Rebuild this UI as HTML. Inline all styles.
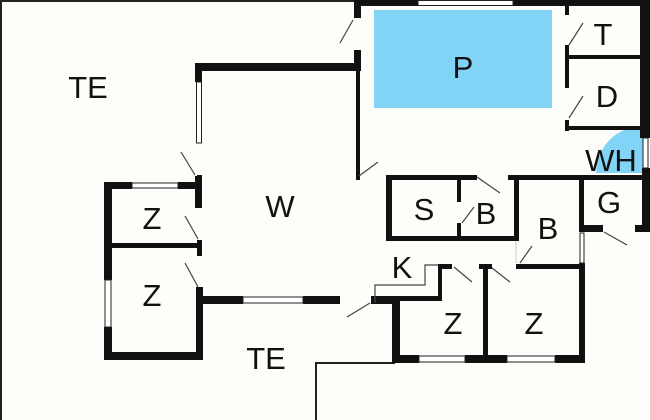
<!DOCTYPE html>
<html><head><meta charset="utf-8"><style>
html,body{margin:0;padding:0;background:#fdfdf9;}
svg{display:block}
text{font-family:"Liberation Sans",sans-serif;font-size:31px;fill:#111;text-anchor:middle}
</style></head><body>
<svg width="650" height="420" viewBox="0 0 650 420" xmlns="http://www.w3.org/2000/svg">
<rect width="650" height="420" fill="#fdfdf9"/>
<g fill="none" stroke="#222" stroke-width="2">
<path d="M1,420 V1 H355"/>
<path d="M316,420 V363 H395"/>
</g>
<rect x="374" y="10" width="178" height="98" fill="#82d4f6"/>
<path d="M643,173 L596,173 A47,47 0 0 1 643,126 Z" fill="#82d4f6"/>
<g fill="#111">
<rect x="354" y="0" width="64" height="6"/>
<rect x="513" y="0" width="137" height="6"/>
<rect x="354" y="0" width="7" height="18"/>
<rect x="354" y="50" width="7" height="21"/>
<rect x="195" y="63" width="166" height="8"/>
<rect x="195" y="63" width="7" height="19"/>
<rect x="195" y="176" width="7" height="32"/>
<rect x="356" y="71" width="4" height="109"/>
<rect x="565" y="0" width="4" height="15"/>
<rect x="565" y="45" width="4" height="43"/>
<rect x="565" y="120" width="4" height="11"/>
<rect x="565" y="55" width="78" height="4"/>
<rect x="565" y="126" width="78" height="4"/>
<rect x="640" y="0" width="10" height="138"/>
<rect x="642" y="168" width="8" height="64"/>
<rect x="386" y="175" width="91" height="5"/>
<rect x="508" y="175" width="142" height="5"/>
<rect x="386" y="175" width="6" height="66"/>
<rect x="386" y="236" width="133" height="5"/>
<rect x="514" y="175" width="5" height="66"/>
<rect x="457" y="175" width="4" height="27"/>
<rect x="457" y="223" width="4" height="18"/>
<rect x="579" y="175" width="5" height="57"/>
<rect x="579" y="225" width="24" height="7"/>
<rect x="635" y="225" width="15" height="7"/>
<rect x="579" y="263" width="6" height="100"/>
<rect x="516" y="264" width="69" height="5"/>
<rect x="438" y="264" width="14" height="5"/>
<rect x="479" y="264" width="13" height="5"/>
<rect x="483" y="264" width="5" height="95"/>
<rect x="438" y="264" width="4" height="37"/>
<rect x="392" y="296" width="50" height="5"/>
<rect x="371" y="296" width="29" height="8"/>
<rect x="392" y="296" width="8" height="67"/>
<rect x="392" y="355" width="27" height="8"/>
<rect x="465" y="355" width="42" height="8"/>
<rect x="555" y="355" width="30" height="8"/>
<rect x="104" y="182" width="28" height="7"/>
<rect x="178" y="182" width="24" height="7"/>
<rect x="104" y="182" width="8" height="98"/>
<rect x="104" y="327" width="8" height="33"/>
<rect x="104" y="243" width="98" height="5"/>
<rect x="104" y="352" width="99" height="8"/>
<rect x="197" y="175" width="5" height="33"/>
<rect x="197" y="240" width="5" height="16"/>
<rect x="196" y="287" width="7" height="73"/>
<rect x="196" y="296" width="47" height="8"/>
<rect x="303" y="296" width="37" height="8"/>
</g>
<g fill="#fff" stroke="#222" stroke-width="1">
<rect x="418" y="0.5" width="95" height="5"/>
<rect x="196.5" y="82" width="5" height="61"/>
<rect x="132" y="183" width="46" height="5"/>
<rect x="105" y="280" width="6" height="47"/>
<rect x="243" y="297" width="60" height="6"/>
<rect x="419" y="356" width="46" height="6"/>
<rect x="507" y="356" width="48" height="6"/>
<rect x="643" y="138" width="5" height="30"/>
<rect x="580" y="233" width="4" height="30"/>
</g>
<g stroke="#444" stroke-width="1.2" fill="none">
<path d="M375,303 V285 H425 V265 H438"/>
<path d="M340,43 L353,20"/>
<path d="M359,176 L378,162"/>
<path d="M583,23 L569,45"/>
<path d="M583,96 L569,118"/>
<path d="M181,152 L195,175"/>
<path d="M477,177 L500,193"/>
<path d="M462,223 L474,207"/>
<path d="M604,232 L627,245"/>
<path d="M185,216 L198,239"/>
<path d="M185,263 L198,287"/>
<path d="M454,267 L472,282"/>
<path d="M492,268 L510,282"/>
<path d="M520,263 L532,246"/>
<path d="M347,317 L370,303"/>
</g>
<g stroke="#ccc" stroke-width="1" fill="none">
<path d="M516,241 V263"/>
</g>
<text x="88" y="98">TE</text>
<text x="463" y="78">P</text>
<text x="603" y="45">T</text>
<text x="607" y="107">D</text>
<text x="611" y="171">WH</text>
<text x="280" y="217">W</text>
<text x="424" y="220">S</text>
<text x="486" y="224">B</text>
<text x="548" y="239">B</text>
<text x="609" y="213">G</text>
<text x="152" y="229">Z</text>
<text x="152" y="306">Z</text>
<text x="402" y="278">K</text>
<text x="453" y="334">Z</text>
<text x="534" y="334">Z</text>
<text x="266" y="369">TE</text>
</svg>
</body></html>
